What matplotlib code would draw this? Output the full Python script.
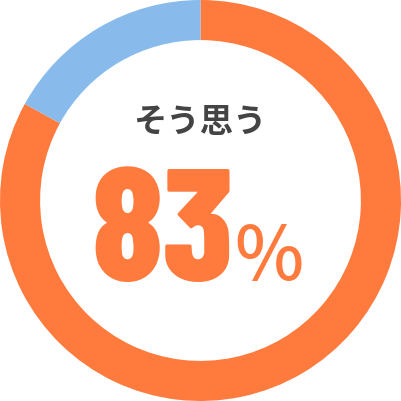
import matplotlib
matplotlib.use("Agg")
import matplotlib.pyplot as plt

# Data
labels = ["そう思う", "そう思わない"]
values = [83, 17]
colors = ["#FF7A3D", "#88BBEC"]
headline = "そう思う"
percent_text = "83"

fig = plt.figure(figsize=(4.01, 4.01), dpi=100)
ax = fig.add_axes([0, 0, 1, 1])

ax.pie(
    values,
    colors=colors,
    startangle=90,
    counterclock=False,
    radius=1.0,
    wedgeprops=dict(width=0.2, edgecolor="none"),
)
ax.set_xlim(-1, 1)
ax.set_ylim(-1, 1)
ax.set_aspect("equal")
ax.axis("off")

ax.text(0, 0.39, headline, ha="center", va="center", fontsize=24,
        fontweight="bold", color="#444444",
        family=["Noto Sans CJK JP", "DejaVu Sans"])

ax.text(-0.19, -0.40, percent_text, ha="center", va="baseline", fontsize=115,
        fontweight=800, color=colors[0], family="Barlow Condensed")

ax.text(0.34, -0.395, "%", ha="center", va="baseline", fontsize=53,
        fontweight=500, color=colors[0], family=["Noto Sans CJK JP", "DejaVu Sans"])

fig.savefig("out.png", dpi=100)
